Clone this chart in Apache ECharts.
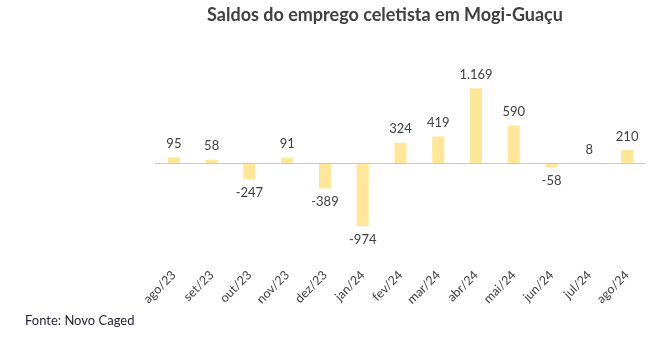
<!DOCTYPE html>
<html>
<head>
<meta charset="utf-8">
<script src="https://cdn.jsdelivr.net/npm/echarts@6/dist/echarts.min.js"></script>
<style>
  html, body { margin: 0; padding: 0; background: #ffffff; }
  #chart { width: 668px; height: 346px; }
</style>
</head>
<body>
<div id="chart"></div>
<script>
// Monthly net formal employment balance (CAGED), Mogi-Guaçu
const months = ['ago/23', 'set/23', 'out/23', 'nov/23', 'dez/23', 'jan/24', 'fev/24',
                'mar/24', 'abr/24', 'mai/24', 'jun/24', 'jul/24', 'ago/24'];
const saldos = [95, 58, -247, 91, -389, -974, 324, 419, 1169, 590, -58, 8, 210];

const FONT = 'Lato, "Noto Sans", sans-serif';
const TEXT = '#404040';

// Brazilian thousands separator: 1169 -> "1.169"
function fmt(v) {
  const s = String(Math.abs(v)).replace(/\B(?=(\d{3})+(?!\d))/g, '.');
  return (v < 0 ? '-' : '') + s;
}

const chart = echarts.init(document.getElementById('chart'), null, { renderer: 'canvas' });

chart.setOption({
  animation: false,
  backgroundColor: '#ffffff',
  title: {
    text: 'Saldos do emprego celetista em Mogi-Guaçu',
    left: 380,
    textAlign: 'center',
    top: 1,
    textStyle: { fontFamily: FONT, fontSize: 18, fontWeight: 'bold', color: TEXT }
  },
  graphic: [{
    type: 'text',
    left: 25,
    top: 314,
    style: { text: 'Fonte: Novo Caged', fontFamily: FONT, fontSize: 13, fill: '#1f1f33' }
  }],
  grid: { left: 155, right: 22, top: 67, height: 193 },
  xAxis: {
    type: 'category',
    data: months,
    axisLine: { show: false, onZero: false },
    axisTick: { show: false },
    axisLabel: { rotate: 45, margin: 13, interval: 0, color: TEXT, fontFamily: FONT, fontSize: 12.5 }
  },
  yAxis: {
    type: 'value',
    min: -1500,
    max: 1500,
    show: false,
    splitLine: { show: false }
  },
  series: [{
    type: 'bar',
    barWidth: 12,
    itemStyle: { color: '#FFE699' },
    data: saldos.map(v => ({
      value: v,
      label: { position: v < 0 ? 'bottom' : 'top' }
    })),
    label: {
      show: true,
      distance: 7,
      color: TEXT,
      fontFamily: FONT,
      fontSize: 13,
      formatter: p => fmt(p.value)
    },
    markLine: {
      silent: true,
      symbol: ['none', 'none'],
      label: { show: false },
      lineStyle: { color: '#c8c8c8', width: 1, type: 'solid' },
      data: [{ yAxis: 0 }]
    },
    z: 3
  }]
});
</script>
</body>
</html>
